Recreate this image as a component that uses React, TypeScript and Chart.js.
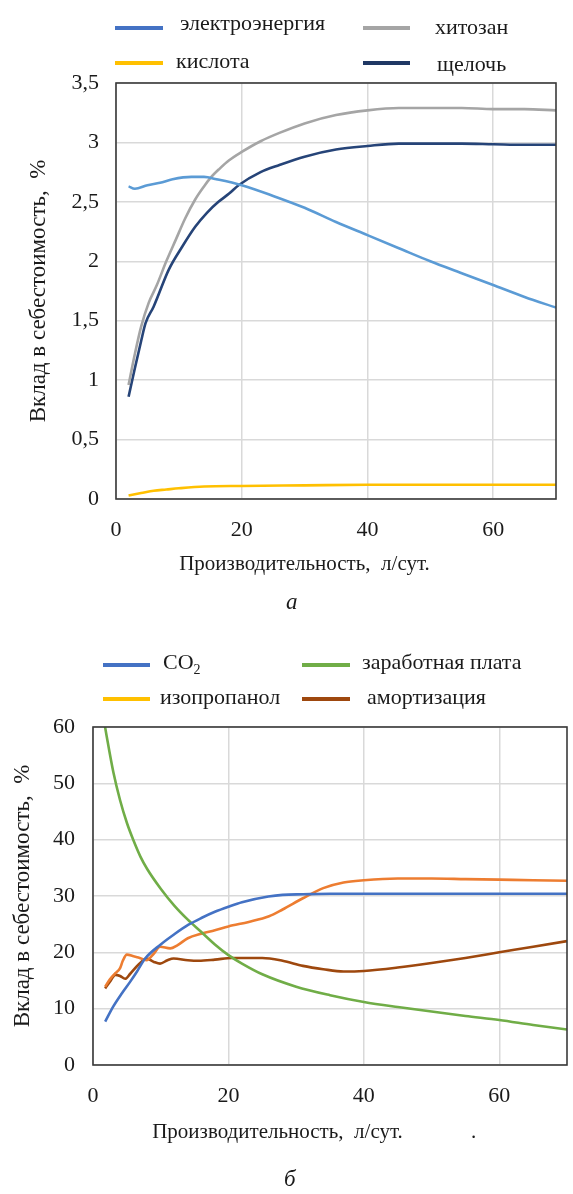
import React, { useEffect, useRef } from "react";
import { Chart, registerables } from "chart.js";
Chart.register(...registerables);

const FONT = "'Liberation Serif', 'Times New Roman', serif";

// ---- Chart а ----
const elecX = [2, 3, 5, 7, 9, 12, 14, 16, 20, 25, 30, 35, 40, 45, 50, 55, 60, 65, 70];
const elecY = [2.63, 2.61, 2.64, 2.66, 2.69, 2.71, 2.71, 2.69, 2.64, 2.55, 2.45, 2.33, 2.22, 2.11, 2.0, 1.9, 1.8, 1.7, 1.61];
const chitX = [2, 3, 4, 5.2, 6.5, 8, 9.5, 11, 12.6, 14, 15, 16.5, 18, 20, 23, 26, 30, 35, 40, 45, 50, 55, 60, 65, 70];
const chitY = [0.96, 1.22, 1.45, 1.65, 1.8, 2.0, 2.18, 2.36, 2.52, 2.63, 2.7, 2.78, 2.85, 2.92, 3.01, 3.08, 3.16, 3.23, 3.27, 3.29, 3.29, 3.29, 3.28, 3.28, 3.27];
const alkX = [2, 3, 4, 4.7, 6, 8.4, 10.5, 12.6, 14.5, 16.3, 18, 19.5, 23, 26, 30, 35, 40, 45, 50, 55, 60, 65, 70];
const alkY = [0.86, 1.1, 1.33, 1.48, 1.62, 1.93, 2.12, 2.29, 2.41, 2.5, 2.57, 2.64, 2.75, 2.81, 2.88, 2.94, 2.97, 2.99, 2.99, 2.99, 2.985, 2.98, 2.98];
const acidX = [2, 4, 6, 8, 10, 14, 20, 30, 40, 50, 60, 70];
const acidY = [0.03, 0.05, 0.07, 0.08, 0.09, 0.105, 0.11, 0.115, 0.12, 0.12, 0.12, 0.12];

// ---- Chart б ----
const co2X = [1.8, 3, 4.25, 5.5, 6.5, 7.7, 10, 12, 14.1, 16, 18, 20, 22, 25.9, 28, 31, 35, 40, 50, 60, 70];
const co2Y = [7.7, 10.4, 12.7, 14.8, 16.6, 18.9, 21.4, 23.2, 24.9, 26.1, 27.2, 28.1, 28.9, 29.9, 30.2, 30.3, 30.4, 30.4, 30.4, 30.4, 30.4];
const salX = [1.5, 2, 3, 4, 5, 6, 7, 8, 10, 12, 14, 16, 18, 20, 22, 25, 30, 35, 40, 45, 50, 55, 60, 65, 70];
const salY = [62, 58.5, 52, 47, 43, 39.8, 37, 34.8, 31.3, 28.3, 25.8, 23.6, 21.4, 19.5, 18.0, 16.1, 13.9, 12.4, 11.2, 10.3, 9.5, 8.7, 8.0, 7.1, 6.3];
const isoX = [1.8, 2.5, 3.3, 4.0, 4.4, 5.0, 6, 6.7, 7.9, 9, 9.9, 11.4, 12.5, 14, 16, 18, 20, 23, 26, 28, 31, 34, 37, 40, 45, 50, 55, 60, 65, 70];
const isoY = [13.9, 15.2, 16.3, 17.2, 18.5, 19.6, 19.3, 19.1, 18.6, 19.8, 21.0, 20.7, 21.3, 22.5, 23.3, 23.9, 24.6, 25.4, 26.4, 27.6, 29.6, 31.4, 32.4, 32.8, 33.1, 33.1, 33.0, 32.9, 32.8, 32.7];
const amoX = [1.8, 2.5, 3.3, 4.0, 4.75, 5.5, 6.7, 7.9, 9, 9.9, 11, 11.9, 14, 15.6, 18, 20.5, 25, 28, 31, 34, 37, 40, 45, 50, 55, 60, 65, 70];
const amoY = [13.6, 14.8, 16.0, 15.8, 15.3, 16.2, 17.8, 18.9, 18.3, 18.0, 18.6, 18.9, 18.6, 18.5, 18.7, 19.0, 19.0, 18.5, 17.6, 17.0, 16.6, 16.7, 17.3, 18.1, 19.0, 20.0, 21.0, 22.0];

const xTicks = [0, 20, 40, 60];

const pts = (xs: number[], ys: number[]) => xs.map((x, i) => ({ x, y: ys[i] }));

const framePlugin = {
  id: "frame",
  afterDraw(chart: any) {
    const { ctx, chartArea: a } = chart;
    ctx.save();
    ctx.strokeStyle = "#3a3a3a";
    ctx.lineWidth = 1.6;
    ctx.strokeRect(a.left, a.top, a.right - a.left, a.bottom - a.top);
    ctx.restore();
  },
};

function ds(label: string, data: any[], color: string) {
  return {
    label,
    data,
    borderColor: color,
    backgroundColor: color,
    borderWidth: 2.6,
    pointRadius: 0,
    cubicInterpolationMode: "monotone",
    fill: false,
  };
}

type Cfg = {
  datasets: any[];
  yMax: number;
  yStep: number;
  height: number;
  padTop: number;
  padRight: number;
  yWidth: number;
  xHeight: number;
  yTitle: string;
  xTitle: string;
  yTitlePad: number;
  xTitlePad: number;
  yTickPad: number;
  xTickPad: number;
};

function LineChart(props: { cfg: Cfg }) {
  const ref = useRef<HTMLCanvasElement>(null);
  const c = props.cfg;
  useEffect(() => {
    if (!ref.current) return;
    const tickFont = { family: FONT, size: 22 };
    const xTitleFont = { family: FONT, size: 21 };
    const yTitleFont = { family: FONT, size: 23 };
    const chart = new Chart(ref.current, {
      type: "line",
      data: { datasets: c.datasets },
      plugins: [framePlugin],
      options: {
        animation: false,
        responsive: false,
        maintainAspectRatio: false,
        layout: { padding: { top: c.padTop, right: c.padRight, left: 0, bottom: 0 } },
        plugins: { legend: { display: false }, tooltip: { enabled: false } },
        scales: {
          x: {
            type: "linear",
            min: 0,
            max: 70,
            afterFit: (s: any) => { s.height = c.xHeight; },
            afterBuildTicks: (s: any) => { s.ticks = xTicks.map((v) => ({ value: v })); },
            ticks: { font: tickFont, color: "#1a1a1a", padding: c.xTickPad, maxRotation: 0, includeBounds: false },
            grid: { color: "#d9d9d9", lineWidth: 1.5, drawTicks: false },
            border: { display: false },
            title: { display: true, text: c.xTitle, font: xTitleFont, color: "#1a1a1a", padding: { top: 0, bottom: c.xTitlePad } },
          },
          y: {
            type: "linear",
            min: 0,
            max: c.yMax,
            afterFit: (s: any) => { s.width = c.yWidth; },
            ticks: {
              stepSize: c.yStep,
              font: tickFont,
              color: "#1a1a1a",
              padding: c.yTickPad,
              includeBounds: false,
              callback: (v: any) => String(v).replace(".", ","),
            },
            grid: { color: "#d9d9d9", lineWidth: 1.5, drawTicks: false },
            border: { display: false },
            title: { display: true, text: c.yTitle, font: yTitleFont, color: "#1a1a1a", padding: { top: c.yTitlePad, bottom: 0 } },
          },
        },
      } as any,
    });
    return () => chart.destroy();
  }, []);
  return <canvas ref={ref} width={573} height={c.height} style={{ display: "block", width: 573, height: c.height }} />;
}

const textStyle: React.CSSProperties = {
  position: "absolute",
  fontFamily: FONT,
  fontSize: 22,
  lineHeight: "26px",
  color: "#1a1a1a",
  whiteSpace: "nowrap",
};

function LegendItem(p: { x: number; y: number; w: number; color: string; tx: number; ty: number; children: any }) {
  return (
    <>
      <div style={{ position: "absolute", left: p.x, top: p.y - 2, width: p.w, height: 4, background: p.color }} />
      <div style={{ ...textStyle, left: p.tx, top: p.ty - 13 }}>{p.children}</div>
    </>
  );
}

const cfgA: Cfg = {
  datasets: [
    ds("электроэнергия", pts(elecX, elecY), "#5b9bd5"),
    ds("хитозан", pts(chitX, chitY), "#a5a5a5"),
    ds("кислота", pts(acidX, acidY), "#ffc000"),
    ds("щелочь", pts(alkX, alkY), "#264478"),
  ],
  yMax: 3.5,
  yStep: 0.5,
  height: 580,
  padTop: 83,
  padRight: 17,
  yWidth: 116,
  xHeight: 81,
  yTitle: "Вклад в себестоимость,  %",
  xTitle: "Производительность,  л/сут.            ",
  yTitlePad: 25,
  xTitlePad: 3,
  yTickPad: 17,
  xTickPad: 18,
};

const cfgB: Cfg = {
  datasets: [
    ds("CO2", pts(co2X, co2Y), "#4472c4"),
    ds("заработная плата", pts(salX, salY), "#70ad47"),
    ds("изопропанол", pts(isoX, isoY), "#ed7d31"),
    ds("амортизация", pts(amoX, amoY), "#9e480e"),
  ],
  yMax: 60,
  yStep: 10,
  height: 550,
  padTop: 127,
  padRight: 6,
  yWidth: 93,
  xHeight: 85,
  yTitle: "Вклад в себестоимость,  %",
  xTitle: "Производительность,  л/сут.             .      ",
  yTitlePad: 9,
  xTitlePad: 5,
  yTickPad: 18,
  xTickPad: 18,
};

export default function App() {
  return (
    <div style={{ position: "absolute", left: 0, top: 0, width: 573, height: 1194, background: "#fff", overflow: "hidden" }}>
      <div style={{ position: "absolute", left: 0, top: 0 }}>
        <LineChart cfg={cfgA} />
      </div>
      <div style={{ position: "absolute", left: 0, top: 600 }}>
        <LineChart cfg={cfgB} />
      </div>

      {/* legend а */}
      <LegendItem x={115} y={28} w={48} color="#4472c4" tx={180} ty={23}>электроэнергия</LegendItem>
      <LegendItem x={363} y={28} w={47} color="#a5a5a5" tx={435} ty={27}>хитозан</LegendItem>
      <LegendItem x={115} y={63} w={48} color="#ffc000" tx={176} ty={61}>кислота</LegendItem>
      <LegendItem x={363} y={63} w={47} color="#1f3864" tx={437} ty={64}>щелочь</LegendItem>

      <div style={{ ...textStyle, left: 286, top: 589, fontStyle: "italic", fontSize: 23 }}>а</div>

      {/* legend б */}
      <LegendItem x={103} y={665} w={47} color="#4472c4" tx={163} ty={662}>
        <span>CO<sub style={{ fontSize: 14, verticalAlign: "-5px", lineHeight: 0 }}>2</sub></span>
      </LegendItem>
      <LegendItem x={302} y={665} w={48} color="#70ad47" tx={362} ty={662}>заработная плата</LegendItem>
      <LegendItem x={103} y={699} w={47} color="#ffc000" tx={160} ty={697}>изопропанол</LegendItem>
      <LegendItem x={302} y={699} w={48} color="#9e480e" tx={367} ty={697}>амортизация</LegendItem>

      <div style={{ ...textStyle, left: 284, top: 1166, fontStyle: "italic", fontSize: 23 }}>б</div>
    </div>
  );
}
